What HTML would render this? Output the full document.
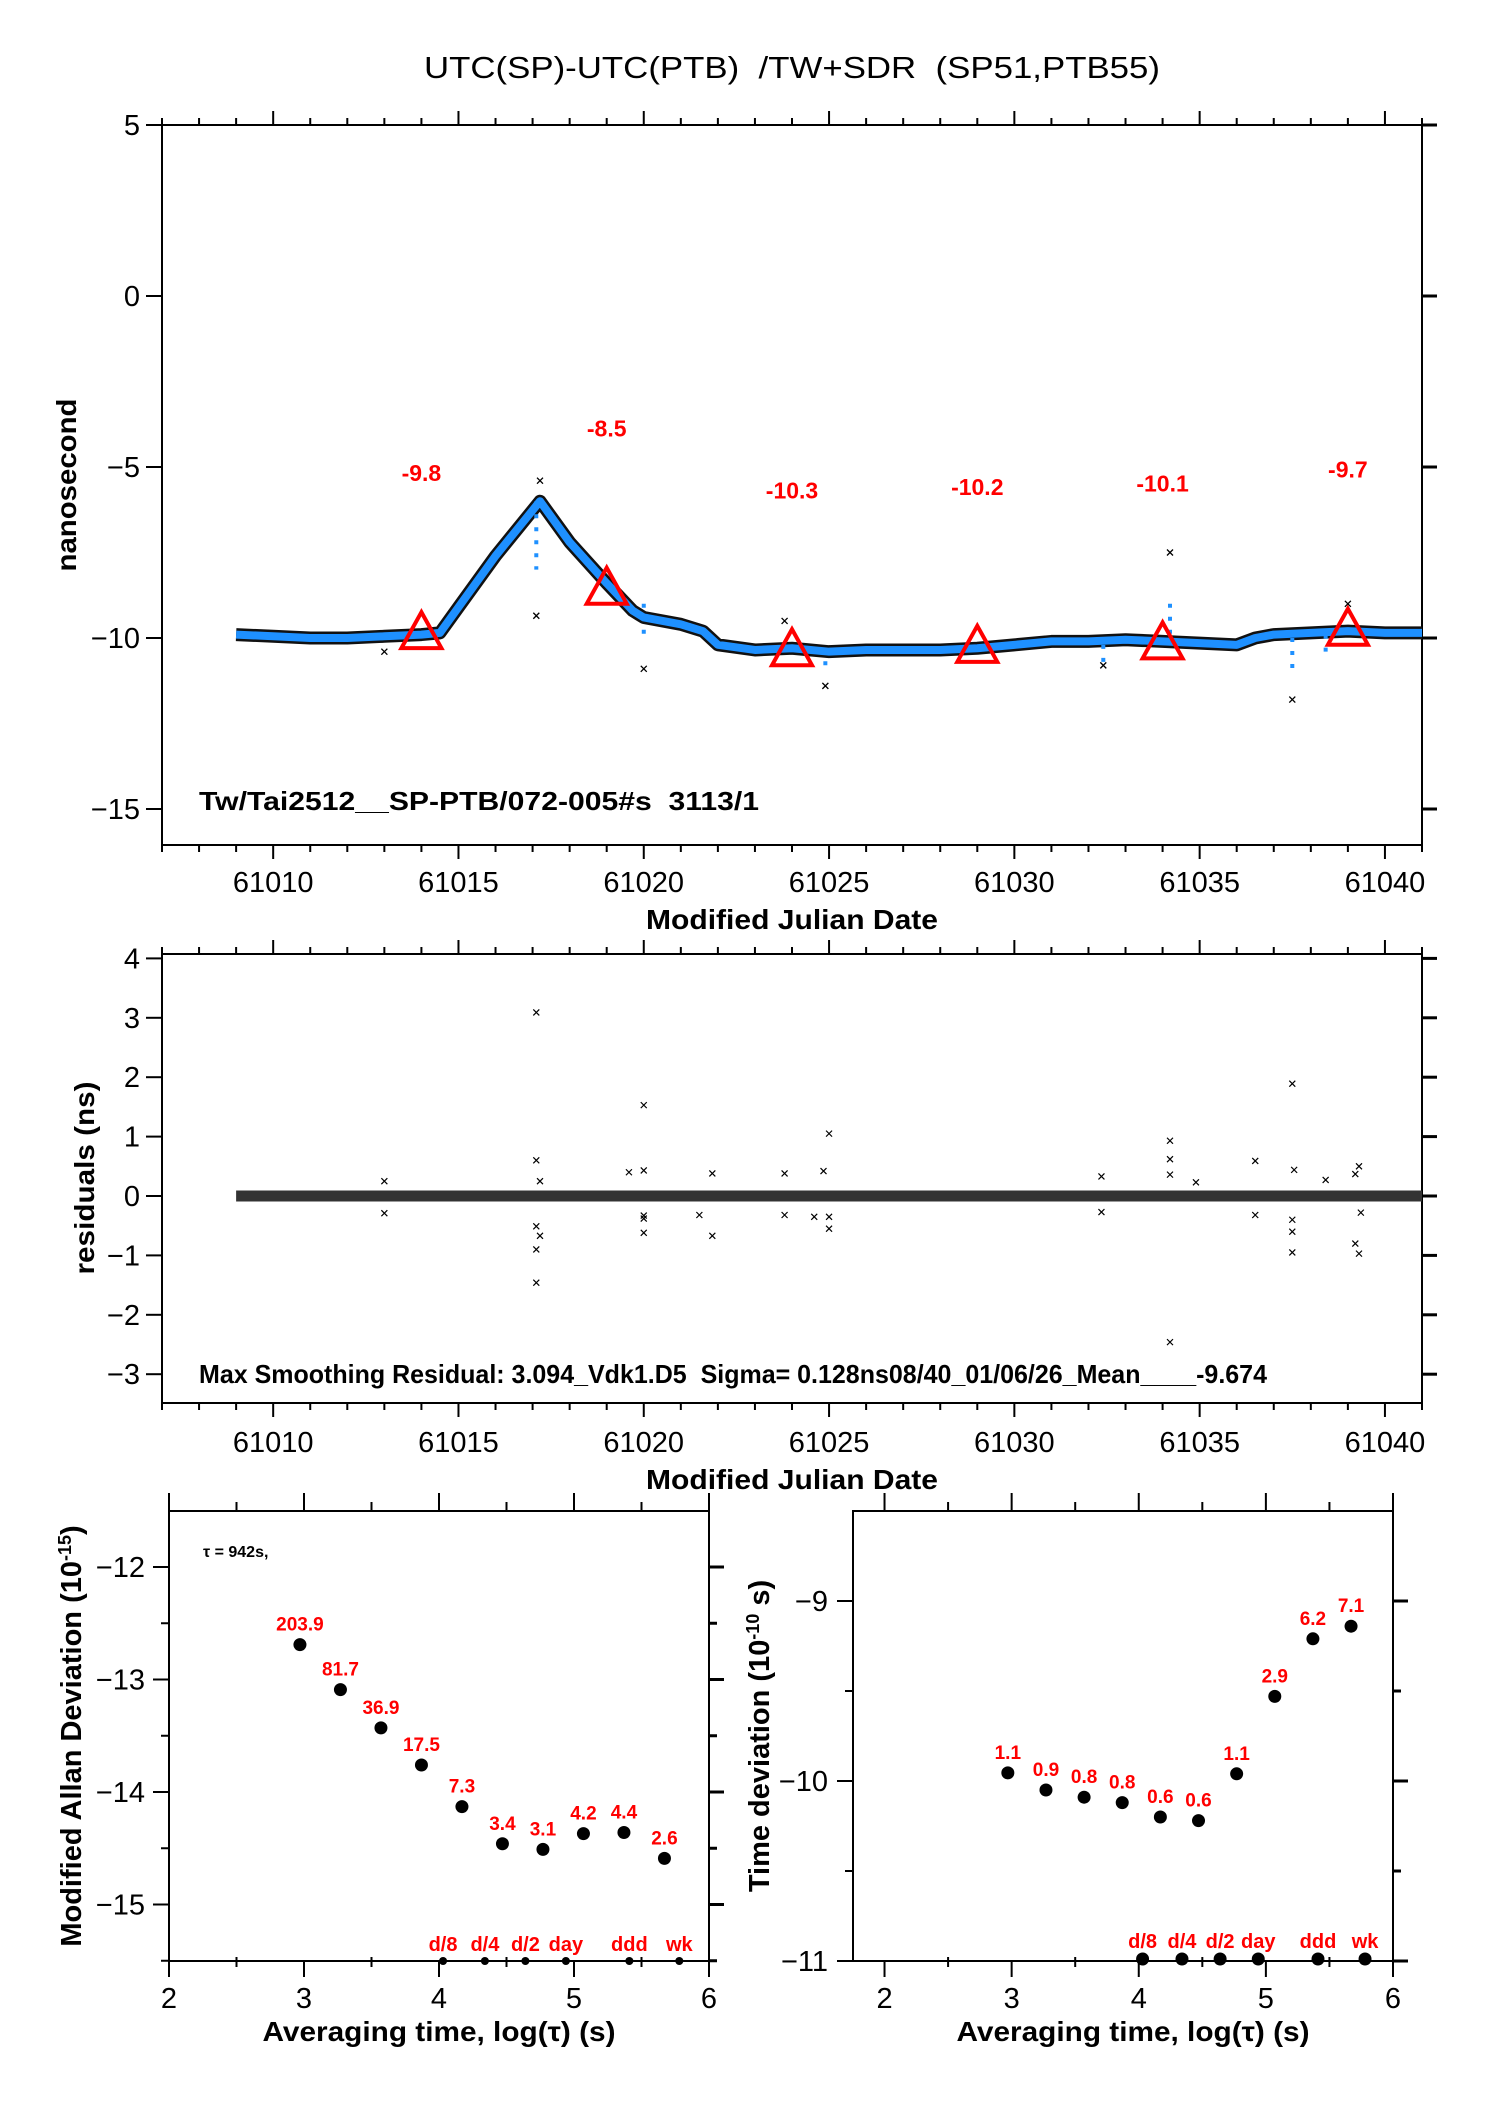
<!DOCTYPE html>
<html><head><meta charset="utf-8">
<style>
html,body{margin:0;padding:0;background:#fff;}
svg{display:block;font-family:"Liberation Sans",sans-serif;}
text{white-space:pre;}
</style></head>
<body>
<svg id="chart" width="1488" height="2105" viewBox="0 0 1488 2105" xmlns="http://www.w3.org/2000/svg" xml:space="preserve">
<rect width="1488" height="2105" fill="#fff"/>
<text x="792" y="78" font-size="31" text-anchor="middle" textLength="736" lengthAdjust="spacingAndGlyphs">UTC(SP)-UTC(PTB)  /TW+SDR  (SP51,PTB55)</text>
<g id="g1"></g>
<g id="g2"></g>
<g id="g3"></g>
<g id="g4"></g>
</svg>
<script>
// ---- data: main series (smoothed trend anchors) ----
const trendMjd = [61009,61010,61011,61012,61013,61014,61014.5,61015,61016,61017.2,61018,61019,61019.7,61020,61021,61021.6,61022,61023,61024,61025,61026,61027,61028,61029,61030,61031,61032,61033,61034,61035,61036,61036.5,61037,61038,61039,61040,61041];
const trendNs  = [-9.9,-9.95,-10.0,-10.0,-9.95,-9.9,-9.85,-9.1,-7.6,-6.0,-7.2,-8.4,-9.2,-9.4,-9.6,-9.8,-10.2,-10.35,-10.3,-10.4,-10.35,-10.35,-10.35,-10.3,-10.2,-10.1,-10.1,-10.05,-10.1,-10.15,-10.2,-10.0,-9.9,-9.85,-9.8,-9.85,-9.85];
const outMjd = [61017.1,61017.2,61020,61024.9,61034.2,61037.5,61039,61023.8,61013,61032.4];
const outNs  = [-9.35,-5.4,-10.9,-11.4,-7.5,-11.8,-9.0,-9.5,-10.4,-10.8];
const spikeMjd = [61017.1,61020,61024.9,61034.2,61037.5,61032.4,61038.4];
const spikeFrom= [-6.0,-9.0,-10.3,-9.0,-10.0,-10.2,-9.9];
const spikeTo  = [-8.0,-10.1,-10.8,-10.0,-10.9,-10.9,-10.5];
const triMjd = [61014,61019,61024,61029,61034,61039];
const triNs  = [-9.8,-8.5,-10.3,-10.2,-10.1,-9.7];
const triLabels = ["-9.8","-8.5","-10.3","-10.2","-10.1","-9.7"];
const xTicks = [61010,61015,61020,61025,61030,61035,61040];
const yTicks1 = [5,0,-5,-10,-15];
const yLabels1 = ["5","0","\u22125","\u221210","\u221215"];
// ---- residuals ----
const resMjd = [61017.1,61017.1,61017.2,61017.1,61017.1,61017.2,61017.1,61013,61013,61019.6,61020,61020,61020,61020,61020,61021.85,61021.85,61021.5,61023.8,61023.8,61024.85,61025,61025,61025,61024.6,61032.35,61032.35,61034.2,61034.2,61034.2,61034.2,61036.5,61036.5,61037.5,61037.55,61037.5,61037.5,61037.5,61039.3,61039.2,61039.2,61039.3,61039.35,61038.4,61034.9];
const resVal = [3.09,0.6,0.25,-0.51,-0.9,-0.67,-1.46,0.25,-0.29,0.4,0.43,1.53,-0.33,-0.38,-0.62,0.38,-0.67,-0.32,0.38,-0.32,0.42,1.05,-0.35,-0.55,-0.35,0.33,-0.27,0.93,0.62,0.36,-2.46,0.59,-0.32,1.89,0.44,-0.4,-0.6,-0.95,0.5,0.37,-0.8,-0.97,-0.28,0.27,0.23];
const yTicks2 = [4,3,2,1,0,-1,-2,-3];
const yLabels2 = ["4","3","2","1","0","\u22121","\u22122","\u22123"];
// ---- Allan deviation ----
const logTau = [2.97,3.27,3.57,3.87,4.17,4.47,4.77,5.07,5.37,5.67];
const madev = [-12.69,-13.09,-13.43,-13.76,-14.13,-14.46,-14.51,-14.37,-14.36,-14.59];
const madevLabels = ["203.9","81.7","36.9","17.5","7.3","3.4","3.1","4.2","4.4","2.6"];
const tdev = [-9.955,-10.05,-10.09,-10.12,-10.2,-10.22,-9.96,-9.53,-9.21,-9.14];
const tdevLabels = ["1.1","0.9","0.8","0.8","0.6","0.6","1.1","2.9","6.2","7.1"];
const markTau = [4.03,4.34,4.64,4.94,5.41,5.78];
const markLabels = ["d/8","d/4","d/2","day","ddd","wk"];
const xTicks3 = [2,3,4,5,6];
const yTicks3 = [-12,-13,-14,-15];
const yLabels3 = ["\u221212","\u221213","\u221214","\u221215"];
const yTicks4 = [-9,-10,-11];
const yLabels4 = ["\u22129","\u221210","\u221211"];

const NS="http://www.w3.org/2000/svg";
function mk(parent,tag,attrs,text){const e=document.createElementNS(NS,tag);for(const k in attrs)e.setAttribute(k,attrs[k]);if(text!==undefined)e.textContent=text;parent.appendChild(e);return e;}
function line(p,x1,y1,x2,y2,w,c){return mk(p,'line',{x1:x1,y1:y1,x2:x2,y2:y2,stroke:c||'#000','stroke-width':w||2});}

// ===== Panel 1 =====
const L=162,R=1422;
const X=m=>L+(m-61007)*(R-L)/34;
const g1=document.getElementById('g1');
const Y1=v=>296-v*34.2;
const T1=125,B1=845;
mk(g1,'rect',{x:L,y:T1,width:R-L,height:B1-T1,fill:'none',stroke:'#000','stroke-width':2});
for(let d=61007;d<=61041;d++){const maj=d%5===0;const x=X(d);
 line(g1,x,T1,x,T1-(maj?14:7),2);line(g1,x,B1,x,B1+(maj?14:7),2);}
xTicks.forEach(t=>{const e=mk(g1,'text',{x:X(t),y:892,'font-size':29,'text-anchor':'middle'},String(t));
 });
yTicks1.forEach((t,i)=>{const y=Y1(t);line(g1,L-16,y,L,y,2);line(g1,R,y,R+15,y,3);
 const e=mk(g1,'text',{x:140,y:y+10,'font-size':29,'text-anchor':'end'},yLabels1[i]);
 });
let tx=mk(g1,'text',{x:792,y:929,'font-size':28,'font-weight':'bold','text-anchor':'middle',textLength:292,lengthAdjust:'spacingAndGlyphs'},'Modified Julian Date');

tx=mk(g1,'text',{x:0,y:0,'font-size':28,'font-weight':'bold','text-anchor':'middle',transform:'translate(76,485) rotate(-90)',textLength:173,lengthAdjust:'spacingAndGlyphs'},'nanosecond');

const pts=trendMjd.map((m,i)=>X(m)+','+Y1(trendNs[i])).join(' ');
let pl=mk(g1,'polyline',{points:pts,fill:'none',stroke:'#111','stroke-width':13,'stroke-linejoin':'round'});

pl=mk(g1,'polyline',{points:pts,fill:'none',stroke:'#1e90ff','stroke-width':8,'stroke-linejoin':'round'});

spikeMjd.forEach((m,i)=>{const s=line(g1,X(m),Y1(spikeFrom[i]),X(m),Y1(spikeTo[i]),4,'#1e90ff');s.setAttribute('stroke-dasharray','4 9');
 });
outMjd.forEach((m,i)=>{const x=X(m),y=Y1(outNs[i]);const e=mk(g1,'path',{d:`M${x-3},${y-3}L${x+3},${y+3}M${x-3},${y+3}L${x+3},${y-3}`,stroke:'#000','stroke-width':1.3});
 });
triMjd.forEach((m,i)=>{const x=X(m),y=Y1(triNs[i]);
 const e=mk(g1,'polygon',{points:`${x},${y-19} ${x-20},${y+17} ${x+20},${y+17}`,fill:'none',stroke:'#ff0000','stroke-width':4});
 
 const t=mk(g1,'text',{x:x,y:y-150,'font-size':23,'font-weight':'bold',fill:'#ff0000','text-anchor':'middle'},triLabels[i]);
 });
tx=mk(g1,'text',{x:199,y:810,'font-size':26,'font-weight':'bold',textLength:560,lengthAdjust:'spacingAndGlyphs'},'Tw/Tai2512__SP-PTB/072-005#s  3113/1');


// ===== Panel 2 =====
const g2=document.getElementById('g2');
const Y2=v=>1196-v*59.4;
const T2=954,B2=1403;
mk(g2,'rect',{x:L,y:T2,width:R-L,height:B2-T2,fill:'none',stroke:'#000','stroke-width':2});
for(let d=61007;d<=61041;d++){const maj=d%5===0;const x=X(d);
 line(g2,x,T2,x,T2-(maj?14:7),2);line(g2,x,B2,x,B2+(maj?14:7),2);}
xTicks.forEach(t=>{const e=mk(g2,'text',{x:X(t),y:1452,'font-size':29,'text-anchor':'middle'},String(t));
 });
yTicks2.forEach((t,i)=>{const y=Y2(t);line(g2,L-16,y,L,y,2);line(g2,R,y,R+15,y,3);
 const e=mk(g2,'text',{x:140,y:y+10,'font-size':29,'text-anchor':'end'},yLabels2[i]);
 });
tx=mk(g2,'text',{x:792,y:1489,'font-size':28,'font-weight':'bold','text-anchor':'middle',textLength:292,lengthAdjust:'spacingAndGlyphs'},'Modified Julian Date');

tx=mk(g2,'text',{x:0,y:0,'font-size':28,'font-weight':'bold','text-anchor':'middle',transform:'translate(94,1178) rotate(-90)',textLength:193,lengthAdjust:'spacingAndGlyphs'},'residuals (ns)');

let band=line(g2,X(61009),Y2(0),X(61041),Y2(0),11,'#333');

resMjd.forEach((m,i)=>{const x=X(m),y=Y2(resVal[i]);const e=mk(g2,'path',{d:`M${x-3},${y-3}L${x+3},${y+3}M${x-3},${y+3}L${x+3},${y-3}`,stroke:'#000','stroke-width':1.2});
 });
tx=mk(g2,'text',{x:199,y:1383,'font-size':26,'font-weight':'bold',textLength:1068,lengthAdjust:'spacingAndGlyphs'},'Max Smoothing Residual: 3.094_Vdk1.D5  Sigma= 0.128ns08/40_01/06/26_Mean____-9.674');


// ===== Panels 3 & 4 =====
function stabPanel(g,Lx,Rx,x0,x1,Yf,T,B,yt,yl,minorY,vals,labs,markR,markY,ylabel,ylabX,tickLabX,ylabLen){
 const Xf=v=>Lx+(v-x0)*(Rx-Lx)/(x1-x0);
 mk(g,'rect',{x:Lx,y:T,width:Rx-Lx,height:B-T,fill:'none',stroke:'#000','stroke-width':2});
 for(let v=2;v<=6;v+=0.5){const maj=Number.isInteger(v);const x=Xf(v);
  line(g,x,T,x,T-(maj?18:9),2);line(g,x,B-(maj?0:4),x,B+(maj?16:6),2);}
 xTicks3.forEach(t=>{const e=mk(g,'text',{x:Xf(t),y:2008,'font-size':29,'text-anchor':'middle'},String(t));
  });
 yt.forEach((t,i)=>{const y=Yf(t);line(g,Lx-16,y,Lx,y,2);line(g,Rx,y,Rx+15,y,3);
  const e=mk(g,'text',{x:tickLabX,y:y+10,'font-size':29,'text-anchor':'end'},yl[i]);
  });
 minorY.forEach(t=>{const y=Yf(t);line(g,Lx-8,y,Lx,y,2);line(g,Rx,y,Rx+8,y,3);});
 const xt=mk(g,'text',{x:(Lx+Rx)/2+ (x0<2?10:0),y:2041,'font-size':28,'font-weight':'bold','text-anchor':'middle',textLength:353,lengthAdjust:'spacingAndGlyphs'},'Averaging time, log(\u03c4) (s)');
 
 const ytl=mk(g,'text',{x:0,y:0,'font-size':29,'font-weight':'bold','text-anchor':'middle',transform:`translate(${ylabX},${(T+B)/2}) rotate(-90)`});
 
 ytl.innerHTML=ylabel;
 logTau.forEach((lt,i)=>{const x=Xf(lt),y=Yf(vals[i]);
  const c=mk(g,'circle',{cx:x,cy:y,r:6.5,fill:'#000'});
  
  const t=mk(g,'text',{x:x,y:y-14,'font-size':19,'font-weight':'bold',fill:'#ff0000','text-anchor':'middle'},labs[i]);
  });
 markTau.forEach((lt,i)=>{const x=Xf(lt);
  const c=mk(g,'circle',{cx:x,cy:B-(markR>5?2:0),r:markR,fill:'#000'});
  
  const t=mk(g,'text',{x:x,y:markY,'font-size':20,'font-weight':'bold',fill:'#ff0000','text-anchor':'middle'},markLabels[i]);
  });
 return Xf;
}
const g3=document.getElementById('g3');
const Y3=v=>1567-(v+12)*112.5;
stabPanel(g3,169,709,2,6,Y3,1511,1961,yTicks3,yLabels3,[-11.5,-12.5,-13.5,-14.5,-15.5].filter(v=>Y3(v)>1511&&Y3(v)<1961),madev,madevLabels,4,1951,
 'Modified Allan Deviation (10<tspan font-size="18" dy="-10">-15</tspan><tspan dy="10">)</tspan>',81,145);
tx=mk(g3,'text',{x:203,y:1557,'font-size':16,'font-weight':'bold'},'\u03c4 = 942s,');

const g4=document.getElementById('g4');
const Y4=v=>1781-(v+10)*180;
stabPanel(g4,853,1393,1.752,6,Y4,1511,1961,yTicks4,yLabels4,[-9.5,-10.5],tdev,tdevLabels,6.5,1948,
 'Time deviation (10<tspan font-size="18" dy="-10">-10</tspan><tspan dy="10"> s)</tspan>',769,828);
</script>
</body></html>
